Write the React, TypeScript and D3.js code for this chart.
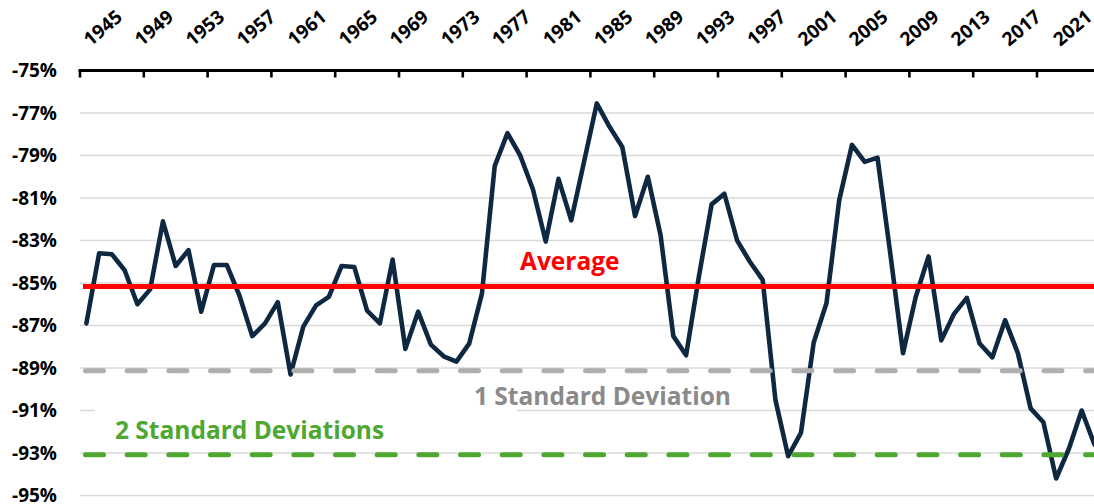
import React from "react";
import * as d3 from "d3";

const years: number[] = d3.range(1945, 2025);
const values: number[] = [
  -86.9, -83.6, -83.65, -84.4, -86.0, -85.3, -82.1, -84.2, -83.45, -86.35,
  -84.15, -84.15, -85.6, -87.5, -86.9, -85.9, -89.3, -87.05, -86.05, -85.65,
  -84.2, -84.25, -86.3, -86.9, -83.9, -88.1, -86.35, -87.9, -88.45, -88.7,
  -87.85, -85.5, -79.5, -77.95, -79.0, -80.6, -83.05, -80.1, -82.05, -79.3,
  -76.55, -77.65, -78.6, -81.85, -80.0, -82.75, -87.5, -88.4, -84.7, -81.3,
  -80.8, -83.0, -84.0, -84.85, -90.5, -93.15, -92.05, -87.8, -85.95, -81.1,
  -78.5, -79.3, -79.1, -83.6, -88.3, -85.65, -83.75, -87.7, -86.45, -85.7,
  -87.85, -88.5, -86.75, -88.3, -90.9, -91.55, -94.2, -92.8, -91.0, -92.6,
];
const yTicks: number[] = [-75, -77, -79, -81, -83, -85, -87, -89, -91, -93, -95];
const xLabelYears: number[] = d3.range(1945, 2022, 4);
const tickYears: number[] = d3.range(1945, 2025, 5);
const average = -85.17;
const oneSD = -89.13;
const twoSD = -93.08;

const W = 1094;
const H = 504;
const FONT = "'Open Sans', 'Noto Sans', Arial, sans-serif";

export default function App() {
  const step = 12.76;
  const x = d3
    .scaleBand<number>()
    .domain(years)
    .range([80, 80 + years.length * step])
    .paddingInner(0)
    .paddingOuter(0);
  const cx = (yr: number) => (x(yr) as number) + x.bandwidth() / 2;
  const y = d3.scaleLinear().domain([-95, -75]).range([495.5, 70.5]);

  const line = d3
    .line<number>()
    .x((_, i) => cx(years[i]))
    .y((d) => y(d));

  const xEnd = 80 + years.length * step + 10;
  const refStart = 83;

  return (
    <svg
      width={W}
      height={H}
      style={{ position: "absolute", left: 0, top: 0, background: "#fff" }}
      fontFamily={FONT}
    >
      <rect x={0} y={0} width={W} height={H} fill="#fff" />
      {/* gridlines */}
      {yTicks.slice(1).map((t) => (
        <line
          key={t}
          x1={80}
          x2={xEnd}
          y1={y(t)}
          y2={y(t)}
          stroke="#D9D9D9"
          strokeWidth={1.6}
        />
      ))}
      {/* y tick labels */}
      {yTicks.map((t) => (
        <text
          key={t}
          x={57}
          y={y(t)}
          dy="0.35em"
          textAnchor="end"
          fontSize={19}
          fontWeight={700}
          fill="#000"
        >
          {`${t}%`}
        </text>
      ))}
      {/* white box behind 2 SD label */}
      <rect x={95} y={398} width={422} height={48} fill="#fff" />
      {/* data line */}
      <path
        d={line(values) || ""}
        fill="none"
        stroke="#0F2842"
        strokeWidth={4.6}
        strokeLinejoin="round"
        strokeLinecap="round"
      />
      {/* reference lines */}
      <line
        x1={refStart}
        x2={xEnd}
        y1={y(average)}
        y2={y(average)}
        stroke="#FF0000"
        strokeWidth={5}
      />
      <line
        x1={refStart + 2.5}
        x2={xEnd}
        y1={y(oneSD)}
        y2={y(oneSD)}
        stroke="#AFAFAF"
        strokeWidth={5}
        strokeDasharray="18 23.67"
        strokeLinecap="round"
      />
      <line
        x1={refStart + 2.5}
        x2={xEnd}
        y1={y(twoSD)}
        y2={y(twoSD)}
        stroke="#4EA72E"
        strokeWidth={5}
        strokeDasharray="18 23.67"
        strokeLinecap="round"
      />
      {/* labels */}
      <text x={520} y={270} fontSize={24.5} fontWeight={700} fill="#FF0000">
        Average
      </text>
      <text x={474} y={405} fontSize={24.5} fontWeight={700} fill="#8A8A8A">
        1 Standard Deviation
      </text>
      <text x={115} y={439.3} fontSize={24.5} fontWeight={700} fill="#4EA72E">
        2 Standard Deviations
      </text>
      {/* top axis */}
      <line x1={78.5} x2={xEnd} y1={y(-75)} y2={y(-75)} stroke="#000" strokeWidth={3} />
      {tickYears.map((yr) => (
        <line
          key={yr}
          x1={x(yr) as number}
          x2={x(yr) as number}
          y1={y(-75)}
          y2={y(-75) + 7}
          stroke="#000"
          strokeWidth={2.6}
        />
      ))}
      {xLabelYears.map((yr) => (
        <text
          key={yr}
          transform={`translate(${cx(yr) + 4},${47}) rotate(-40)`}
          fontSize={19}
          fontWeight={700}
          fill="#000"
        >
          {yr}
        </text>
      ))}
    </svg>
  );
}
